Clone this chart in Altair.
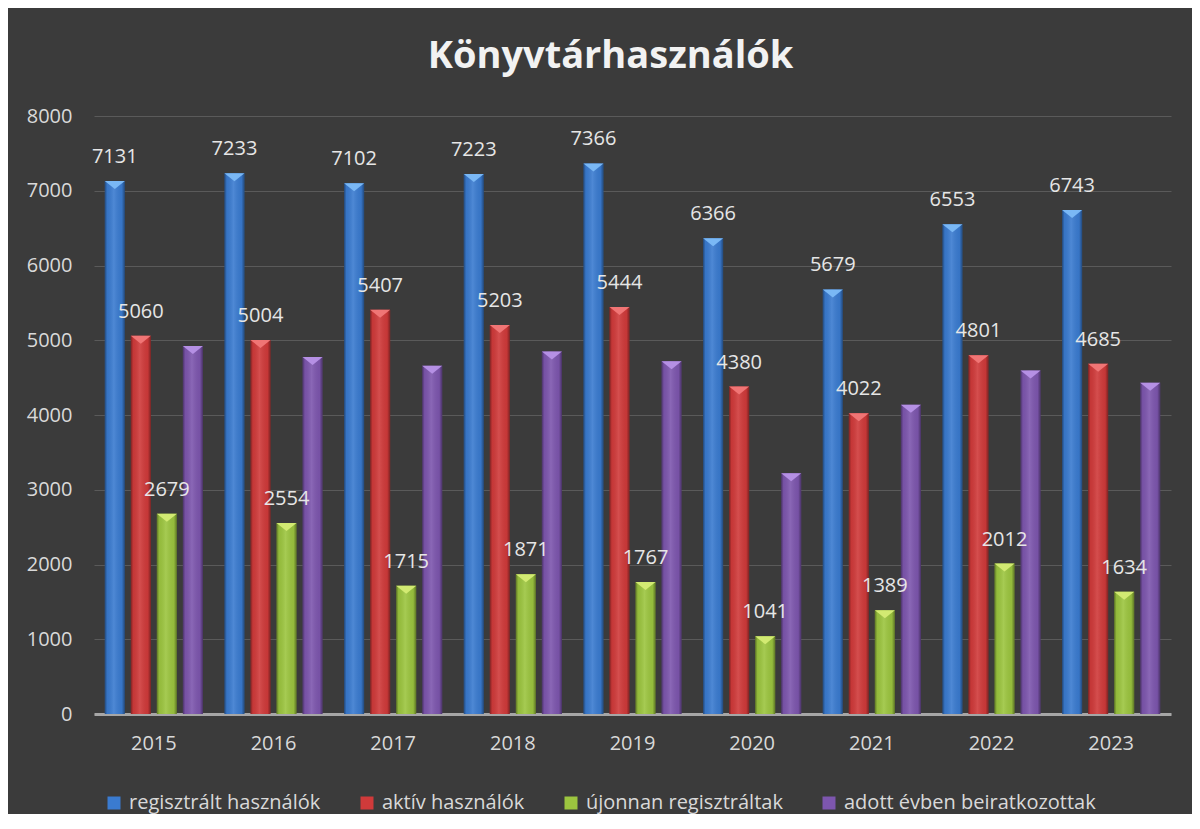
import altair as alt
import pandas as pd

years = ["2015", "2016", "2017", "2018", "2019", "2020", "2021", "2022", "2023"]
series_names = ["regisztrált használók", "aktív használók", "újonnan regisztráltak", "adott évben beiratkozottak"]
registered = [7131, 7233, 7102, 7223, 7366, 6366, 5679, 6553, 6743]
active = [5060, 5004, 5407, 5203, 5444, 4380, 4022, 4801, 4685]
new_registered = [2679, 2554, 1715, 1871, 1767, 1041, 1389, 2012, 1634]
enrolled = [4923, 4777, 4659, 4849, 4720, 3222, 4138, 4596, 4431]

bar_colors = ["#3a7bd0", "#d03a3a", "#9cc53f", "#7d56ae"]
cap_colors = ["#7ab8f5", "#f07575", "#d2ea72", "#b590e4"]

rows = []
for name, vals in zip(series_names, [registered, active, new_registered, enrolled]):
    for y, v in zip(years, vals):
        rows.append({"year": y, "series": name, "value": v})
df = pd.DataFrame(rows)

FONT = "Open Sans"

x_enc = alt.X("year:N", sort=years, title=None,
              scale=alt.Scale(paddingInner=0.18, paddingOuter=0.09),
              axis=alt.Axis(labelAngle=0, labelFontSize=20, labelColor="#d9d9d9", labelFont=FONT,
                            labelPadding=19, ticks=False, domainColor="#a6a6a6", domainWidth=3,
                            grid=False))
xo_enc = alt.XOffset("series:N", sort=series_names,
                     scale=alt.Scale(domain=series_names, paddingInner=0.2308, paddingOuter=0))
y_enc = alt.Y("value:Q", title=None,
              scale=alt.Scale(domain=[0, 8000], nice=False),
              axis=alt.Axis(values=list(range(0, 8001, 1000)), format="d", labelFontSize=20,
                            labelColor="#d9d9d9", labelFont=FONT, labelPadding=22, ticks=False,
                            domain=False, gridColor="#5a5a5a", gridWidth=1))

base = alt.Chart(df).encode(x=x_enc, xOffset=xo_enc, y=y_enc)

bars = base.mark_bar().encode(
    color=alt.Color("series:N", sort=series_names,
                    scale=alt.Scale(domain=series_names, range=bar_colors),
                    legend=alt.Legend(title=None, orient="none", legendX=10, legendY=677,
                                      direction="horizontal", symbolType="square", symbolSize=169,
                                      symbolStrokeWidth=0, labelFontSize=20, labelFont=FONT,
                                      labelColor="#d9d9d9", columnPadding=36, labelOffset=5,
                                      labelLimit=500))
)

shade = base.mark_bar(fill={
    "gradient": "linear", "x1": 0, "x2": 1, "y1": 0, "y2": 0,
    "stops": [
        {"offset": 0, "color": "rgba(0,0,0,0.40)"},
        {"offset": 0.12, "color": "rgba(0,0,0,0.05)"},
        {"offset": 0.45, "color": "rgba(255,255,255,0.10)"},
        {"offset": 0.85, "color": "rgba(0,0,0,0.05)"},
        {"offset": 1, "color": "rgba(0,0,0,0.40)"},
    ]})

caps = base.mark_point(shape="M-1,0L1,0L0,0.8Z", size=400, filled=True, opacity=1).encode(
    fill=alt.Fill("series:N", sort=series_names,
                  scale=alt.Scale(domain=series_names, range=cap_colors), legend=None)
)

labels = base.transform_filter(
    alt.datum.series != series_names[3]
).mark_text(fontSize=20, font=FONT, color="#e6e6e6", baseline="alphabetic", dy=-18).encode(
    text=alt.Text("value:Q", format="d")
)

chart = alt.layer(bars, shade, caps, labels).properties(
    width=1077, height=598,
    title=alt.Title("Könyvtárhasználók", fontSize=38, font=FONT, fontWeight="bold",
                    color="#f2f2f2", anchor="middle", dx=-22, baseline="alphabetic", offset=0),
    autosize=alt.AutoSizeParams(type="none"),
    padding={"left": 86, "top": 108, "right": 21, "bottom": 100},
).configure(background="#3b3b3b").configure_view(stroke=None)

chart.save("out.html", embed_options={"renderer": "svg", "actions": False})
